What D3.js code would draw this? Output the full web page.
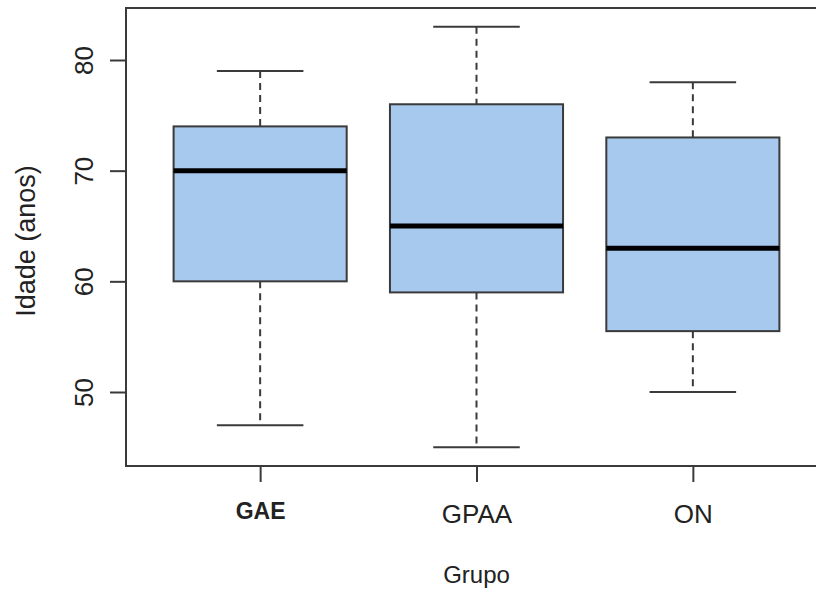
<!DOCTYPE html>
<html>
<head>
<meta charset="utf-8">
<script src="https://cdn.jsdelivr.net/npm/d3@7"></script>
<style>
  html, body { margin: 0; padding: 0; background: #fff; }
  svg { display: block; }
  text { font-family: "Liberation Sans", Arial, sans-serif; fill: #222; }
</style>
</head>
<body>
<svg id="chart" width="816" height="591"></svg>
<script>
// ---- data ----
const categories = ["GAE", "GPAA", "ON"];
const whiskerLow = [47, 45, 50];
const q1 = [60, 59, 55.5];
const medians = [70, 65, 63];
const q3 = [74, 76, 73];
const whiskerHigh = [79, 83, 78];
const yTicks = [50, 60, 70, 80];
const yLabel = "Idade (anos)";
const xLabel = "Grupo";

// ---- layout ----
const svg = d3.select("#chart");
const mLeft = 126, mRight = 827, mTop = 8, mBottom = 466;

const x = d3.scaleLinear().domain([0.38, 3.62]).range([mLeft, mRight]);
// y fitted to tick positions (80 -> 60px, 50 -> 392px)
const pxPerUnit = (392 - 60) / 30;
const y = d3.scaleLinear()
  .domain([80 - (mBottom - 60) / pxPerUnit, 80 + (60 - mTop) / pxPerUnit])
  .range([mBottom, mTop]);

const boxFill = "#a7c9ee";
const lineCol = "#3a3a3a";

const data = categories.map((c, i) => ({
  cat: c, pos: i + 1, lo: whiskerLow[i], q1: q1[i], med: medians[i], q3: q3[i], hi: whiskerHigh[i]
}));

const g = svg.append("g");
const boxHalf = 0.4, capHalf = 0.2;

const groups = g.selectAll("g.box").data(data).join("g").attr("class", "box");

// whiskers (dashed)
groups.append("line")
  .attr("x1", d => x(d.pos)).attr("x2", d => x(d.pos))
  .attr("y1", d => y(d.hi)).attr("y2", d => y(d.q3))
  .attr("stroke", lineCol).attr("stroke-width", 2).attr("stroke-dasharray", "7,5");
groups.append("line")
  .attr("x1", d => x(d.pos)).attr("x2", d => x(d.pos))
  .attr("y1", d => y(d.q1)).attr("y2", d => y(d.lo))
  .attr("stroke", lineCol).attr("stroke-width", 2).attr("stroke-dasharray", "7,5");
// caps
groups.append("line")
  .attr("x1", d => x(d.pos - capHalf)).attr("x2", d => x(d.pos + capHalf))
  .attr("y1", d => y(d.hi)).attr("y2", d => y(d.hi))
  .attr("stroke", lineCol).attr("stroke-width", 2);
groups.append("line")
  .attr("x1", d => x(d.pos - capHalf)).attr("x2", d => x(d.pos + capHalf))
  .attr("y1", d => y(d.lo)).attr("y2", d => y(d.lo))
  .attr("stroke", lineCol).attr("stroke-width", 2);
// boxes
groups.append("rect")
  .attr("x", d => x(d.pos - boxHalf))
  .attr("width", d => x(d.pos + boxHalf) - x(d.pos - boxHalf))
  .attr("y", d => y(d.q3))
  .attr("height", d => y(d.q1) - y(d.q3))
  .attr("fill", boxFill).attr("stroke", lineCol).attr("stroke-width", 2);
// medians
groups.append("line")
  .attr("x1", d => x(d.pos - boxHalf)).attr("x2", d => x(d.pos + boxHalf))
  .attr("y1", d => y(d.med)).attr("y2", d => y(d.med))
  .attr("stroke", "#000").attr("stroke-width", 5);

// frame
svg.append("rect")
  .attr("x", mLeft).attr("y", mTop).attr("width", mRight - mLeft).attr("height", mBottom - mTop)
  .attr("fill", "none").attr("stroke", lineCol).attr("stroke-width", 2);

// y axis
const yAxis = d3.axisLeft(y).tickValues(yTicks).tickSize(16).tickPadding(0).tickFormat(d3.format("d"));
const ya = svg.append("g").attr("transform", `translate(${mLeft},0)`).call(yAxis);
ya.select(".domain").remove();
ya.selectAll(".tick line").attr("stroke", lineCol).attr("stroke-width", 2);
ya.selectAll(".tick text")
  .attr("transform", "translate(-33,0) rotate(-90)")
  .attr("x", 0).attr("y", 0).attr("dy", "0")
  .attr("text-anchor", "middle")
  .style("font-size", "26px").style("fill", "#222");

// x axis
const xAxis = d3.axisBottom(x).tickValues(data.map(d => d.pos)).tickSize(16).tickPadding(0)
  .tickFormat((d, i) => categories[i]);
const xa = svg.append("g").attr("transform", `translate(0,${mBottom})`).call(xAxis);
xa.select(".domain").remove();
xa.selectAll(".tick line").attr("stroke", lineCol).attr("stroke-width", 2);
xa.selectAll(".tick text")
  .attr("y", (d, i) => i === 0 ? 53 : 57).attr("dy", "0")
  .style("font-size", (d, i) => i === 0 ? "23px" : "26px").style("fill", "#222")
  .style("font-weight", (d, i) => i === 0 ? "bold" : "normal");

// axis titles
svg.append("text")
  .attr("transform", `translate(35,${(mTop + mBottom) / 2 + 4}) rotate(-90)`)
  .attr("text-anchor", "middle")
  .style("font-size", "27px")
  .text(yLabel);
svg.append("text")
  .attr("x", x(2)).attr("y", 583)
  .attr("text-anchor", "middle")
  .style("font-size", "24px")
  .text(xLabel);
</script>
</body>
</html>
